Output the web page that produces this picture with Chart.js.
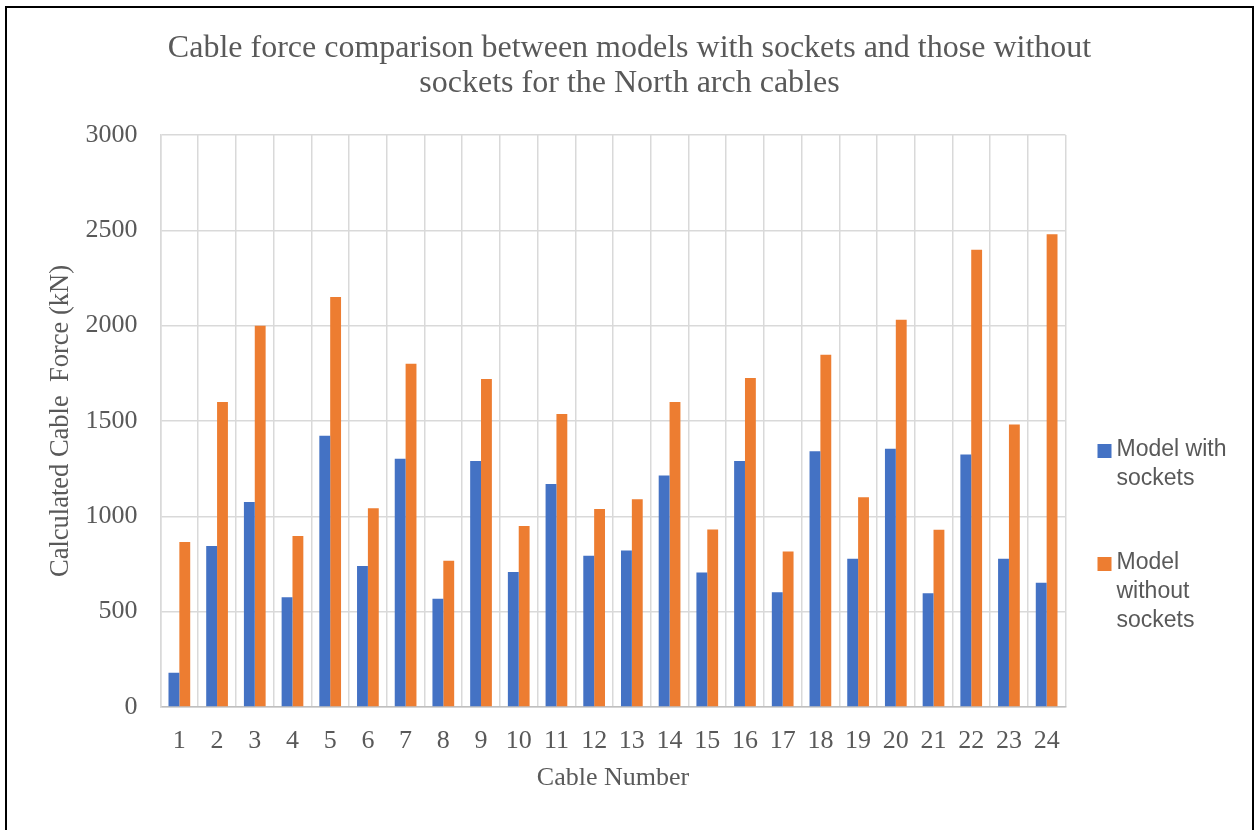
<!DOCTYPE html>
<html>
<head>
<meta charset="utf-8">
<title>Cable force comparison</title>
<script src="https://cdn.jsdelivr.net/npm/chart.js@4.4.1/dist/chart.umd.min.js"></script>
<style>
    html, body { margin: 0; padding: 0; background: #fff; overflow: hidden; }
    #contenedor { position: relative; width: 1259px; height: 830px; }
    #contenedor canvas { position: absolute; left: 0; top: 0; }
    /* marco negro alrededor de la figura (sin borde inferior) */
    #marco { position: absolute; left: 5px; top: 6px; width: 1249px; height: 840px; border: 2px solid #000; box-sizing: border-box; pointer-events: none; }
</style>
</head>
<body>
<div id="contenedor">
    <canvas id="grafico" width="1259" height="830"></canvas>
    <div id="marco"></div>
</div>
<script>
// Datos: fuerza en cables del arco norte (kN)
const cables = ['1', '2', '3', '4', '5', '6', '7', '8', '9', '10', '11', '12',
    '13', '14', '15', '16', '17', '18', '19', '20', '21', '22', '23', '24'];
const conSockets = [180, 845, 1075, 575, 1423, 740, 1302, 568, 1290, 708, 1170, 793,
    821, 1214, 706, 1290, 602, 1342, 777, 1355, 596, 1324, 777, 652];
const sinSockets = [865, 1600, 2000, 897, 2150, 1042, 1800, 767, 1720, 949, 1537, 1039,
    1090, 1600, 931, 1726, 815, 1848, 1100, 2031, 929, 2398, 1481, 2480];
const nombresSeries = ['Model with sockets', 'Model without sockets'];
const leyendaLineas = [['Model with', 'sockets'], ['Model', 'without', 'sockets']];
const coloresSeries = ['#4472C4', '#ED7D31'];

const gris = '#595959';
const serif = '"Liberation Serif", "Times New Roman", serif';

// Leyenda a la derecha con texto partido en varias líneas
const leyendaLateral = {
    id: 'leyendaLateral',
    afterDraw: function (chart) {
        const ctx = chart.ctx;
        const x = chart.chartArea.right + 32;
        const alto = 29;
        let y = 450;
        ctx.save();
        ctx.font = '23px "Liberation Sans", Arial, sans-serif';
        ctx.textBaseline = 'middle';
        ctx.textAlign = 'left';
        chart.data.datasets.forEach(function (ds, i) {
            ctx.fillStyle = ds.backgroundColor;
            ctx.fillRect(x, y - 6, 14, 14);
            ctx.fillStyle = gris;
            leyendaLineas[i].forEach(function (linea, j) {
                ctx.fillText(linea, x + 19, y + j * alto);
            });
            y += leyendaLineas[i].length * alto + 55;
        });
        ctx.restore();
    }
};

const ctx = document.getElementById('grafico').getContext('2d');
const myChart = new Chart(ctx, {
    type: 'bar',
    data: {
        labels: cables,
        datasets: [
            {
                label: nombresSeries[0],
                data: conSockets,
                backgroundColor: coloresSeries[0],
                categoryPercentage: 0.576,
                barPercentage: 1
            },
            {
                label: nombresSeries[1],
                data: sinSockets,
                backgroundColor: coloresSeries[1],
                categoryPercentage: 0.576,
                barPercentage: 1
            }
        ]
    },
    options: {
        responsive: false,
        animation: false,
        layout: { padding: 0 },
        plugins: {
            legend: { display: false },
            tooltip: { enabled: false },
            title: {
                display: true,
                text: ['Cable force comparison between models with sockets and those without',
                    'sockets for the North arch cables'],
                color: gris,
                font: { family: serif, size: 32, weight: 'normal', lineHeight: 1.1 },
                padding: { top: 31, bottom: 33.6 }
            }
        },
        scales: {
            x: {
                grid: { color: '#d9d9d9', lineWidth: 1.5, drawTicks: false },
                border: { color: '#bfbfbf', width: 1.5 },
                ticks: {
                    color: gris,
                    font: { family: serif, size: 26 },
                    padding: 19,
                    autoSkip: false,
                    maxRotation: 0
                },
                title: {
                    display: true,
                    text: 'Cable Number',
                    color: gris,
                    font: { family: serif, size: 26 },
                    padding: { top: 0, bottom: 36 }
                },
                afterFit: function (escala) { escala.height = 123; }
            },
            y: {
                min: 0,
                max: 3000,
                grid: { color: '#d9d9d9', lineWidth: 1.5, drawTicks: false },
                border: { color: '#d9d9d9', width: 1.5 },
                ticks: {
                    stepSize: 500,
                    format: { useGrouping: false },
                    color: gris,
                    font: { family: serif, size: 26 },
                    padding: 23
                },
                title: {
                    display: true,
                    text: 'Calculated Cable  Force (kN)',
                    color: gris,
                    font: { family: serif, size: 26.5 },
                    padding: { top: 45, bottom: 0 }
                },
                afterFit: function (escala) { escala.width = 160.5; }
            },
            // eje vacío que reserva el hueco de la leyenda
            lateral: {
                type: 'linear',
                position: 'right',
                grid: { display: false },
                border: { display: false },
                ticks: { display: false },
                afterFit: function (escala) { escala.width = 193.5; }
            }
        }
    },
    plugins: [leyendaLateral]
});
</script>
</body>
</html>
